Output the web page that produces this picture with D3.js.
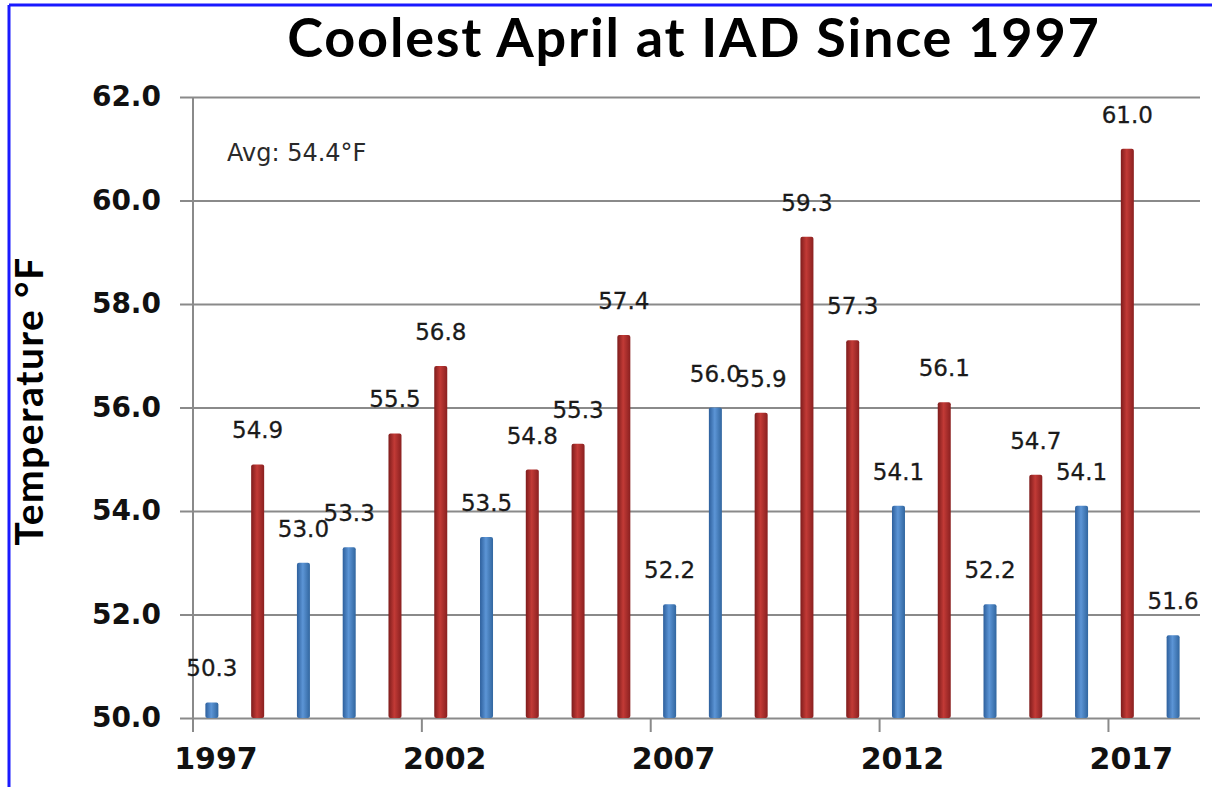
<!DOCTYPE html>
<html>
<head>
<meta charset="utf-8">
<script src="https://cdn.jsdelivr.net/npm/d3@7"></script>
<style>
body { margin: 0; background: #fff; }
svg { display: block; }
.title { font-family: Lato, "Open Sans", sans-serif; font-weight: 700; font-size: 54px; letter-spacing: 1.8px; fill: #000; }
.yTitle { font-family: Lato, "Open Sans", sans-serif; font-weight: 700; font-size: 39px; letter-spacing: 1.5px; fill: #000; }
.yAxis text { font-family: "DejaVu Sans", sans-serif; font-weight: 700; font-size: 28px; fill: #111; }
.xAxis text { font-family: "DejaVu Sans", sans-serif; font-weight: 700; font-size: 30px; fill: #111; }
.valueText { font-family: "DejaVu Sans", sans-serif; font-size: 23px; fill: #1a1a1a; stroke: #1a1a1a; stroke-width: 0.3px; }
.avgText { font-family: "DejaVu Sans", sans-serif; font-size: 24px; fill: #2a2a2a; }
</style>
</head>
<body>
<div id="chart"></div>
<script>
//--------------------------------- Data ---------------------------------
var years = [1997, 1998, 1999, 2000, 2001, 2002, 2003, 2004, 2005, 2006, 2007,
	2008, 2009, 2010, 2011, 2012, 2013, 2014, 2015, 2016, 2017, 2018];
var temps = [50.3, 54.9, 53.0, 53.3, 55.5, 56.8, 53.5, 54.8, 55.3, 57.4, 52.2,
	56.0, 55.9, 59.3, 57.3, 54.1, 56.1, 52.2, 54.7, 54.1, 61.0, 51.6];
// bar colour group as drawn in the picture: "warm" (red) or "cool" (blue)
var groups = ["cool", "warm", "cool", "cool", "warm", "warm", "cool", "warm", "warm", "warm", "cool",
	"cool", "warm", "warm", "warm", "cool", "warm", "cool", "warm", "cool", "warm", "cool"];
var yTicks = [50, 52, 54, 56, 58, 60, 62];
var xTickYears = [1997, 2002, 2007, 2012, 2017];
var avgLabel = "Avg: 54.4°F";

var data = years.map(function(y, i) { return {year: y, temp: temps[i], group: groups[i]}; });

//--------------------------------- Set up svg ---------------------------------
var W = 1212, H = 787;
var margin = {top: 97, right: 12, bottom: 69, left: 193};

var svg = d3.select("#chart").append("svg")
	.attr("width", W)
	.attr("height", H);

var x = d3.scaleBand()
	.domain(years)
	.range([margin.left, W - margin.right]);

var y = d3.scaleLinear()
	.domain([50, 62])
	.range([H - margin.bottom, margin.top]);

//Gradients to give the bars a rounded look
var defs = svg.append("defs");
var gradColors = {
	warm: ["#7e1c1c", "#c23a36", "#8a2020"],
	cool: ["#2d5f9c", "#5c95d6", "#31669f"]
};
Object.keys(gradColors).forEach(function(k) {
	var g = defs.append("linearGradient")
		.attr("id", "grad-" + k)
		.attr("x1", "0%").attr("x2", "100%")
		.attr("y1", "0%").attr("y2", "0%");
	g.append("stop").attr("offset", "0%").attr("stop-color", gradColors[k][0]);
	g.append("stop").attr("offset", "45%").attr("stop-color", gradColors[k][1]);
	g.append("stop").attr("offset", "100%").attr("stop-color", gradColors[k][2]);
});

//Blue frame (top and left)
svg.append("line").attr("x1", 9).attr("x2", W).attr("y1", 5).attr("y2", 5)
	.attr("stroke", "#1a1aff").attr("stroke-width", 3);
svg.append("line").attr("x1", 9).attr("x2", 9).attr("y1", 5).attr("y2", H)
	.attr("stroke", "#1a1aff").attr("stroke-width", 3);

//--------------------------------- Axes ---------------------------------
var yAxis = d3.axisLeft(y)
	.tickValues(yTicks)
	.tickSize(-(W - margin.right - margin.left))
	.tickPadding(32)
	.tickFormat(d3.format(".1f"));

var gy = svg.append("g")
	.attr("class", "yAxis")
	.attr("transform", "translate(" + margin.left + ",0)")
	.call(yAxis);
gy.select(".domain").remove();
gy.selectAll(".tick line")
	.attr("x1", -13)
	.attr("stroke", "#8a8a8a")
	.attr("stroke-width", 2);

//left axis line
svg.append("line")
	.attr("x1", margin.left).attr("x2", margin.left)
	.attr("y1", y(62)).attr("y2", y(50) + 14)
	.attr("stroke", "#8a8a8a").attr("stroke-width", 2);

//x tick marks at category boundaries
svg.selectAll(".xTick")
	.data(xTickYears)
	.enter().append("line")
	.attr("class", "xTick")
	.attr("x1", function(d) { return x(d); })
	.attr("x2", function(d) { return x(d); })
	.attr("y1", y(50)).attr("y2", y(50) + 14)
	.attr("stroke", "#8a8a8a").attr("stroke-width", 2);

var gx = svg.append("g")
	.attr("class", "xAxis")
	.attr("transform", "translate(0," + y(50) + ")")
	.call(d3.axisBottom(x).tickValues(xTickYears).tickSize(0).tickPadding(30));
gx.select(".domain").remove();

//--------------------------------- Bars ---------------------------------
var barW = 13;
svg.selectAll(".tempBar")
	.data(data)
	.enter().append("rect")
	.attr("class", "tempBar")
	.attr("x", function(d) { return x(d.year) + x.bandwidth() / 2 - 4 - barW / 2; })
	.attr("y", function(d) { return y(d.temp); })
	.attr("width", barW)
	.attr("height", function(d) { return y(50) - y(d.temp); })
	.attr("rx", 2)
	.style("fill", function(d) { return "url(#grad-" + d.group + ")"; });

svg.selectAll(".valueText")
	.data(data)
	.enter().append("text")
	.attr("class", "valueText")
	.attr("x", function(d) { return x(d.year) + x.bandwidth() / 2 - 4; })
	.attr("y", function(d) { return y(d.temp) - 26; })
	.attr("text-anchor", "middle")
	.text(function(d) { return d3.format(".1f")(d.temp); });

//--------------------------------- Titles ---------------------------------
svg.append("text")
	.attr("class", "title")
	.attr("x", 694)
	.attr("y", 57)
	.attr("text-anchor", "middle")
	.text("Coolest April at IAD Since 1997");

svg.append("text")
	.attr("class", "yTitle")
	.attr("transform", "translate(43," + 401 + ") rotate(-90)")
	.attr("text-anchor", "middle")
	.text("Temperature °F");

svg.append("text")
	.attr("class", "avgText")
	.attr("x", 227)
	.attr("y", 161)
	.text(avgLabel);
</script>
</body>
</html>
